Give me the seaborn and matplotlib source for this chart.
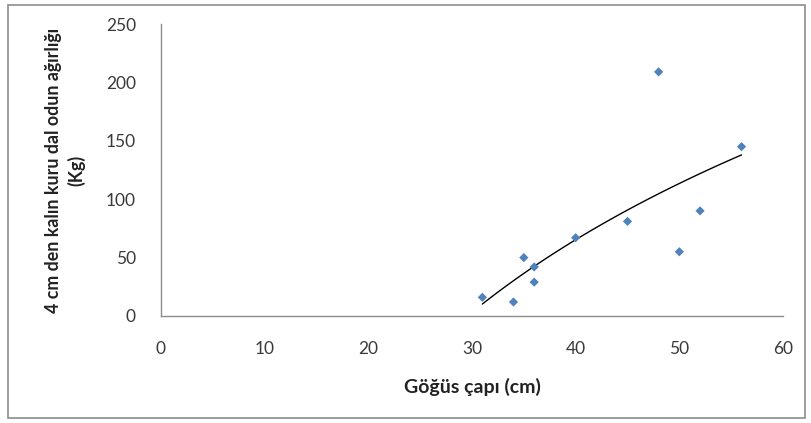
import matplotlib
matplotlib.use("Agg")
import matplotlib.pyplot as plt
from matplotlib.patches import Rectangle
import numpy as np
import pandas as pd
import seaborn as sns

# Breast-height diameter (cm) vs dry branch wood weight > 4 cm (kg)
diameter = [31, 34, 35, 36, 36, 40, 45, 48, 50, 52, 56]
weight = [16, 12, 50, 42, 29, 67, 81, 209, 55, 90, 145]

x_ticks = [0, 10, 20, 30, 40, 50, 60]
y_ticks = [0, 50, 100, 150, 200, 250]

sns.set_theme(style="white")
plt.rcParams["font.family"] = ["Lato", "DejaVu Sans"]

df = pd.DataFrame({"d": diameter, "w": weight})

# logarithmic trendline, least squares on ln(x)
b, a = np.polyfit(np.log(df["d"]), df["w"], 1)
trend = pd.DataFrame({"d": np.linspace(df["d"].min(), df["d"].max(), 100)})
trend["w"] = a + b * np.log(trend["d"])

fig = plt.figure(figsize=(8.12, 4.23), dpi=100)
ax = fig.add_axes([161 / 812, 1 - 316 / 423, 622 / 812, 292 / 423])

sns.lineplot(data=trend, x="d", y="w", color="black", linewidth=1.0, ax=ax)
sns.scatterplot(data=df, x="d", y="w", marker="D", s=22, color="#4F81BD",
                edgecolor="none", ax=ax, zorder=3)

ax.set_xlim(0, 60)
ax.set_ylim(0, 250)
ax.set_xticks(x_ticks)
ax.set_yticks(y_ticks)
ax.tick_params(axis="both", labelsize=12.5, color="#8c8c8c", length=6,
               width=1, direction="out", labelcolor="#3a3a3a")
ax.tick_params(axis="y", pad=12)
ax.tick_params(axis="x", pad=12)
for side in ["top", "right"]:
    ax.spines[side].set_visible(False)
for side in ["left", "bottom"]:
    ax.spines[side].set_color("#8c8c8c")
    ax.spines[side].set_linewidth(1)

ax.set_xlabel("Göğüs çapı (cm)", fontsize=14, fontweight="bold",
              color="#222222")
ax.xaxis.set_label_coords(0.5, -(378 - 316) / 292)
ax.set_ylabel("4 cm den kalın kuru dal odun ağırlığı\n(Kg)", fontsize=12.8,
              fontweight="bold", color="#222222", linespacing=1.3)
ax.yaxis.set_label_coords(-(161 - 85) / 622, 0.5)

fig.patches.append(Rectangle((8 / 812, 5 / 423), 797 / 812, 413 / 423,
                             transform=fig.transFigure, fill=False,
                             edgecolor="#8c8c8c", linewidth=1.2))

fig.savefig("out.png", dpi=100)
